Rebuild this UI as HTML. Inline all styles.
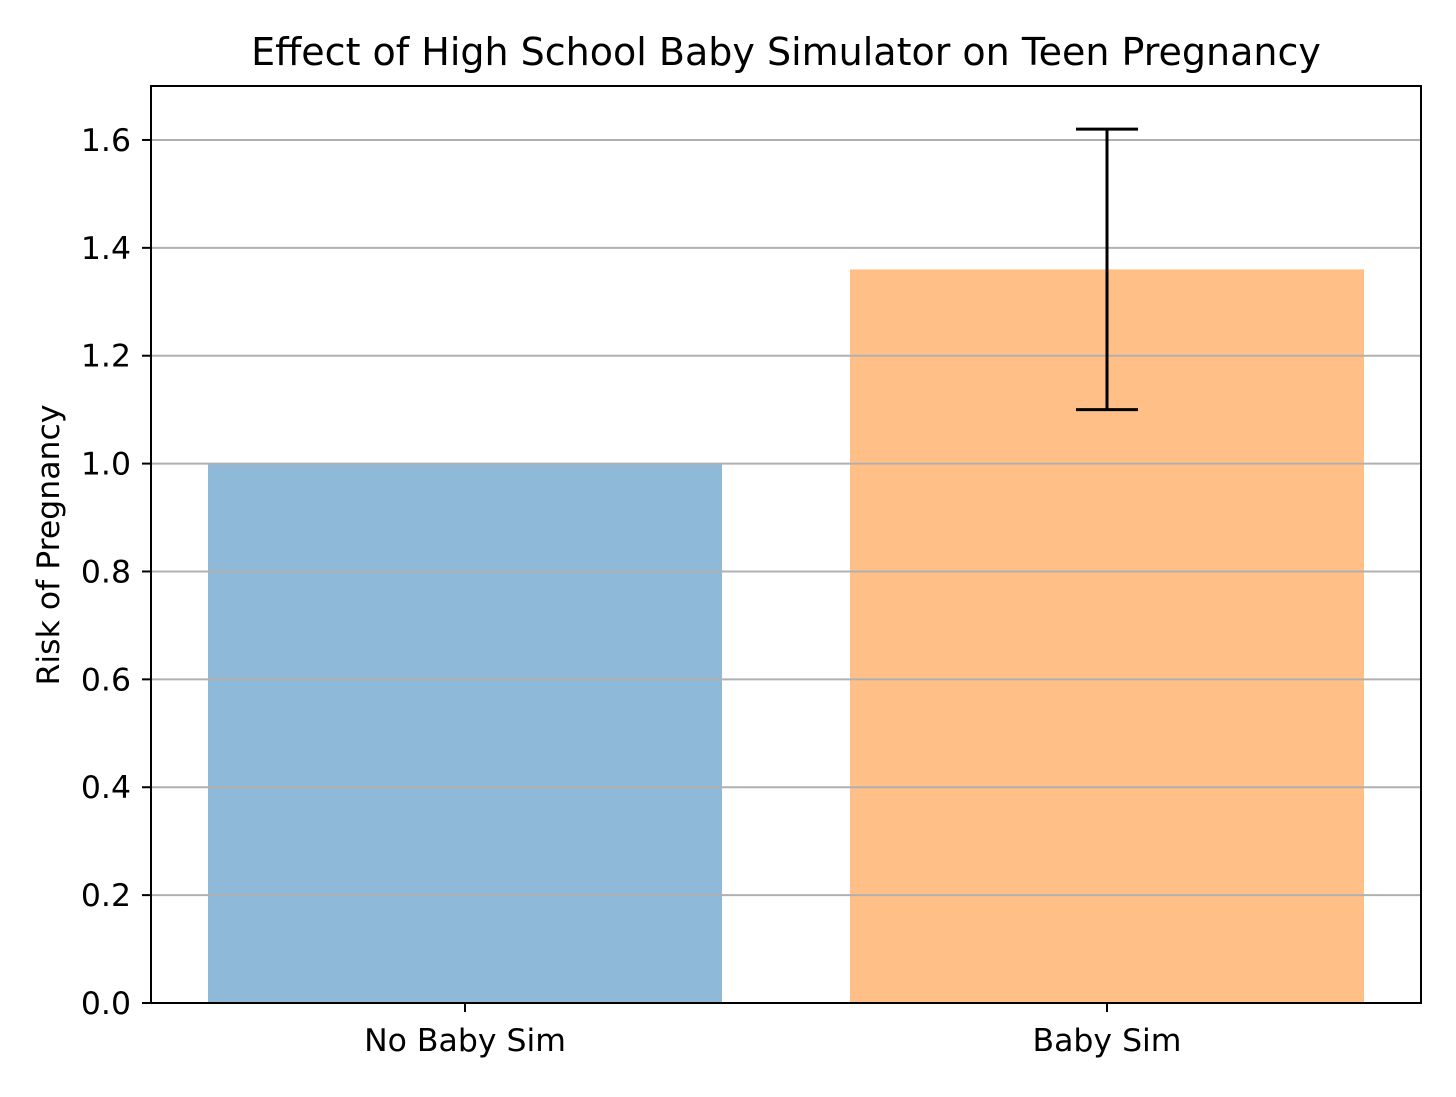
<!DOCTYPE html>
<html><head><meta charset="utf-8"><style>
html,body{margin:0;padding:0;background:#fff;}
svg text{font-family:"DejaVu Sans","Liberation Sans",sans-serif;fill:#000;}
</style></head><body>
<svg id="chart" width="1456" height="1092" xmlns="http://www.w3.org/2000/svg">
<text x="786" y="65" font-size="38" text-anchor="middle">Effect of High School Baby Simulator on Teen Pregnancy</text>
<text transform="translate(59,545) rotate(-90)" font-size="31.5" text-anchor="middle">Risk of Pregnancy</text>
<g id="bars"></g><g id="grid"></g><g id="err"></g><g id="ticks"></g>
<rect x="151" y="86" width="1270" height="917" fill="none" stroke="#000" stroke-width="2"/>
</svg>
<script>
const categories = ["No Baby Sim", "Baby Sim"];
const values = [1.0, 1.36];
const errLow = [null, 1.10];
const errHigh = [null, 1.62];
const colors = ["#8fb9d9", "#ffbf87"];
const yTicks = [0, 0.2, 0.4, 0.6, 0.8, 1.0, 1.2, 1.4, 1.6];
const yTickLabels = ["0.0","0.2","0.4","0.6","0.8","1.0","1.2","1.4","1.6"];

const NS="http://www.w3.org/2000/svg";
const yScale = v => 1003 - v*539.4;
const xScale = i => 465 + i*642;
function mk(tag, attrs, parent){const e=document.createElementNS(NS,tag);for(const k in attrs)e.setAttribute(k,attrs[k]);document.getElementById(parent).appendChild(e);return e;}

categories.forEach((c,i)=>{
  const b=mk('rect',{x:xScale(i)-257,y:yScale(values[i]),width:514,height:yScale(0)-yScale(values[i]),fill:colors[i]},'bars');
  
  
  const t=mk('line',{x1:xScale(i),x2:xScale(i),y1:1003,y2:1012,stroke:'#000','stroke-width':2},'ticks');
  
  
  const l=mk('text',{x:xScale(i),y:1051,'font-size':31.5,'text-anchor':'middle'},'ticks');
  l.textContent=c;
  
  
  if(errLow[i]!==null){
    const v=mk('line',{x1:xScale(i),x2:xScale(i),y1:yScale(errLow[i]),y2:yScale(errHigh[i]),stroke:'#000','stroke-width':3},'err');
    
    
    [errLow[i],errHigh[i]].forEach(e=>{
      const cp=mk('line',{x1:xScale(i)-31,x2:xScale(i)+31,y1:yScale(e),y2:yScale(e),stroke:'#000','stroke-width':3},'err');
      
      
    });
  }
});
yTicks.forEach((v,i)=>{
  const g=mk('line',{x1:151,x2:1421,y1:yScale(v),y2:yScale(v),stroke:'#b0b0b0','stroke-width':2},'grid');
  
  
  const t=mk('line',{x1:142,x2:151,y1:yScale(v),y2:yScale(v),stroke:'#000','stroke-width':2},'ticks');
  
  
  const l=mk('text',{x:131,y:yScale(v)+11,'font-size':31.5,'text-anchor':'end'},'ticks');
  l.textContent=yTickLabels[i];
  
  
});
</script>
</body></html>
